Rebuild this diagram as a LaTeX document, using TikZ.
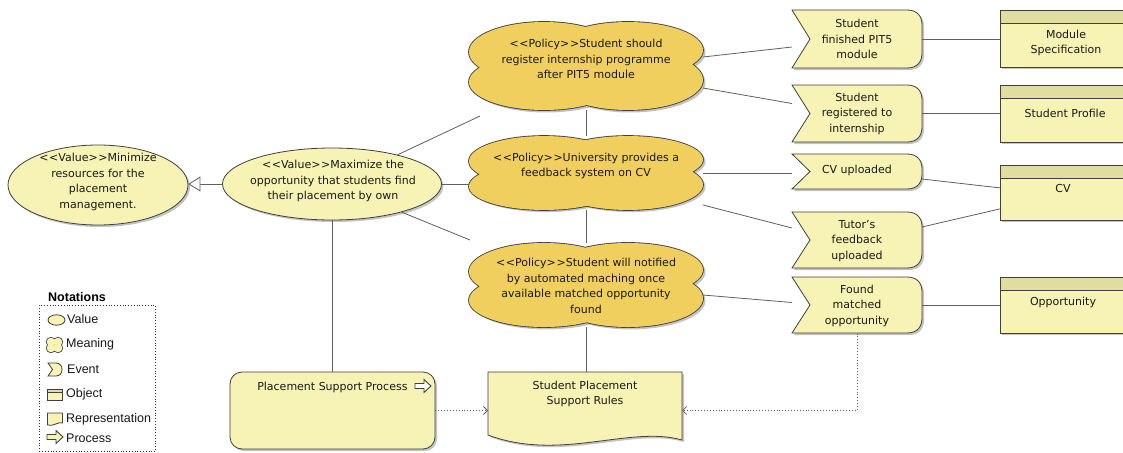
\documentclass[tikz,border=0pt]{standalone}
\usepackage{fontspec}
\setmainfont{DejaVu Sans}
\newfontfamily\legendfont{Liberation Sans}
\usetikzlibrary{shapes.geometric,arrows.meta,shadows,calc}

\definecolor{valfill}{RGB}{246,243,180}
\definecolor{polfill}{RGB}{241,207,94}
\definecolor{objhead}{RGB}{224,221,160}
\definecolor{edge}{RGB}{64,64,64}
\definecolor{linkgrey}{RGB}{96,96,96}
\definecolor{shadowgrey}{RGB}{195,195,195}

% stereotype brackets, kept apart so they are not merged into guillemets
\newcommand\stereo[1]{<\kern0.6pt<#1>\kern0.6pt>}

% policy cloud: four overlapping lobes; thick outline first, then the fill on top
\newcommand\policycloud[3]{%
  \begin{scope}[shift={(#1,#2)}, yscale=#3]
    \fill[shadowgrey, shift={(2.5,2.5)}] (-42,-14) ellipse (75 and 30) (42,-16) ellipse (75 and 28)
      (-42,16) ellipse (75 and 28) (42,14) ellipse (75 and 30);
    \draw[edge, line width=1.7pt] (-42,-14) ellipse (75 and 30) (42,-16) ellipse (75 and 28)
      (-42,16) ellipse (75 and 28) (42,14) ellipse (75 and 30);
    \fill[polfill] (-42,-14) ellipse (75 and 30) (42,-16) ellipse (75 and 28)
      (-42,16) ellipse (75 and 28) (42,14) ellipse (75 and 30);
  \end{scope}}

% event outline: notched left side, rounded right side (left, top, right, bottom)
\newcommand\evoutline[5]{%
  \path[#1] (#2,#3) -- ({#4-15},#3) .. controls ({#4-4},#3) and (#4,{#3+7}) .. (#4,{#3+15})
    -- (#4,{#5-15}) .. controls (#4,{#5-7}) and ({#4-4},#5) .. ({#4-15},#5)
    -- (#2,#5) -- ({#2+18},{(#3+#5)/2}) -- cycle;}
\newcommand\eventshape[4]{%
  \evoutline{fill=shadowgrey, shift={(2,2)}}{#1}{#2}{#3}{#4}%
  \evoutline{draw=edge, fill=valfill, line width=0.8pt}{#1}{#2}{#3}{#4}}

% hollow process arrow (x, y, fill colour)
\newcommand\procarrow[3]{%
  \draw[edge, fill=#3, line width=0.9pt, shift={(#1,#2)}]
    (0,-2.5) -- (9,-2.5) -- (9,-6.5) -- (16,0) -- (9,6.5) -- (9,2.5) -- (0,2.5) -- cycle;}

\tikzset{
  txt/.style={font=\fontsize{11}{15.5}\selectfont, align=center, text=black!90},
  shade/.style={drop shadow={shadow xshift=2pt, shadow yshift=-2pt, opacity=1, fill=shadowgrey}},
  valueshape/.style={ellipse, draw=edge, fill=valfill, line width=0.8pt, inner sep=0pt, shade},
  anchorbox/.style={inner sep=0pt, outer sep=0pt},
  objbody/.style={rectangle, draw=edge, fill=valfill, line width=0.8pt, inner sep=0pt,
    minimum width=140pt, anchor=north west, shade},
  link/.style={draw=linkgrey, line width=0.8pt},
  trace/.style={draw=linkgrey, line width=0.9pt, dotted,
    -{Straight Barb[length=4pt, width=8pt, line width=0.8pt]}},
  legtext/.style={font=\legendfont\fontsize{12.5}{14}\selectfont, anchor=west, inner sep=0pt, text=black!90},
}

\begin{document}
\begin{tikzpicture}[x=1pt, y=-1pt]
\useasboundingbox (0,0) rectangle (1123,452);
\fill[white] (0,0) rectangle (1123,452);

% ---------------- values ----------------
\node[valueshape, minimum width=180pt, minimum height=80pt] (v1) at (98,185) {};
\node[txt] (v1t) at (98,182) {\stereo{Value}Minimize\\resources for the\\placement\\management.};
\node[valueshape, minimum width=219pt, minimum height=72pt] (v2) at (332,184) {};
\node[txt] (v2t) at (333,181) {\stereo{Value}Maximize the\\opportunity that students find\\their placement by own};

% ---------------- policies ----------------
\policycloud{586}{66}{1}
\policycloud{586}{173}{0.84}
\policycloud{586}{285}{0.955}
\node[ellipse, anchorbox, minimum width=234pt, minimum height=88pt] (p1) at (586,66) {};
\node[ellipse, anchorbox, minimum width=234pt, minimum height=74pt] (p2) at (586,173) {};
\node[ellipse, anchorbox, minimum width=234pt, minimum height=84pt] (p3) at (586,285) {};
\node[txt] (p1t) at (586,59) {\stereo{Policy}Student should\\register internship programme\\after PIT5 module};
\node[txt] (p2t) at (586,166) {\stereo{Policy}University provides a\\feedback system on CV};
\node[txt] (p3t) at (586,286) {\stereo{Policy}Student will notified\\by automated maching once\\available matched opportunity\\found};

% ---------------- events ----------------
\eventshape{792}{10}{922}{68}
\eventshape{792}{85}{922}{142}
\eventshape{792}{154}{922}{189}
\eventshape{792}{212}{922}{268}
\eventshape{792}{277}{922}{333}
\node[txt, anchorbox, minimum width=130pt, minimum height=58pt] (e1) at (857,39) {Student\\finished PIT5\\module};
\node[txt, anchorbox, minimum width=130pt, minimum height=57pt] (e2) at (857,113.5) {Student\\registered to\\internship};
\node[txt, anchorbox, minimum width=130pt, minimum height=35pt] (e3) at (857,170) {CV uploaded};
\node[txt, anchorbox, minimum width=130pt, minimum height=56pt] (e4) at (857,241) {Tutor's\\feedback\\uploaded};
\node[txt, anchorbox, minimum width=130pt, minimum height=56pt] (e5) at (857,305.5) {Found\\matched\\opportunity};

% ---------------- objects ----------------
\node[objbody, minimum height=57pt] (o1) at (1000,10) {};
\node[objbody, minimum height=57pt] (o2) at (1000,85) {};
\node[objbody, minimum height=55pt] (o3) at (1000,165) {};
\node[objbody, minimum height=56pt] (o4) at (1000,277) {};
\foreach \o in {o1,o2,o3,o4}
  \draw[edge, fill=objhead, line width=0.8pt] (\o.north west) rectangle ($(\o.north east)+(0,13.5)$);
\node[txt] (o1t) at (1066,43) {Module\\Specification};
\node[txt] (o2t) at (1065,113) {Student Profile};
\node[txt] (o3t) at (1063,188) {CV};
\node[txt] (o4t) at (1063,302) {Opportunity};

% ---------------- process and representation ----------------
\node[draw=edge, fill=valfill, rounded corners=12pt, line width=0.8pt, minimum width=205pt,
  minimum height=77pt, shade] (proc) at (332.5,410.5) {};
\node[txt, anchor=east] (proct) at (411,387) {Placement Support Process};
\procarrow{415}{386}{white}

\node[anchorbox, minimum width=194pt, minimum height=77pt] (rules) at (585,410.5) {};
\fill[shadowgrey, shift={(2,2)}] (488,372) -- (682,372) -- (682,440)
  .. controls (630,425) and (560,462) .. (488,435) -- cycle;
\draw[edge, fill=valfill, line width=0.8pt] (488,372) -- (682,372) -- (682,440)
  .. controls (630,425) and (560,462) .. (488,435) -- cycle;
\node[txt] (rulest) at (585,394) {Student Placement\\Support Rules};

% ---------------- connectors ----------------
\draw[link, -{Triangle[open, length=12pt, width=15pt, fill=white, line width=0.8pt]}]
  (v2.west) -- (v2.west -| v1.east);
\draw[link] (v2.24) -- ($(p1.center)+(-106,50)$);
\draw[link] (v2.east) -- (v2.east -| p2.west);
\draw[link] (v2.-22) -- ($(p3.center)+(-116,-45)$);
\draw[link] (v2.south) -- (v2.south |- proc.north);
\draw[link] (p1.south) -- (p2.north);
\draw[link] (p2.south) -- (p3.north);
\draw[link] (p3.south) -- (p3.south |- rules.north);

\draw[link] ($(p1.center)+(117,-9)$) -- ($(e1.west)+(0,8)$);
\draw[link] ($(p1.center)+(117,22)$) -- ($(e2.west)+(0,-10)$);
\draw[link] (p2.east) -- (p2.east -| e3.west);
\draw[link] ($(p2.center)+(117,32)$) -- ($(e4.west)+(0,-13)$);
\draw[link] ($(p3.center)+(117,10)$) -- ($(e5.west)+(0,-3)$);

\draw[link] (e1.east) -- (e1.east -| o1.west);
\draw[link] (e2.east) -- (e2.east -| o2.west);
\draw[link] ($(e3.east)+(0,9)$) -- ($(o3.west)+(0,-5)$);
\draw[link] ($(e4.east)+(0,-14)$) -- ($(o3.west)+(0,16)$);
\draw[link] (e5.east) -- (e5.east -| o4.west);

\draw[trace] (proc.east) -- (proc.east -| rules.west);
\draw[trace] (e5.south) |- (rules.east);

% ---------------- legend ----------------
\node[font=\legendfont\bfseries\fontsize{12.5}{14}\selectfont, anchor=west, inner sep=0pt] (legtitle) at (48,297) {Notations};
\node[draw=black!80, dotted, line width=0.8pt, anchor=north west, minimum width=116pt,
  minimum height=146pt, inner sep=0pt] (legend) at (39,305) {};
% value
\draw[edge, fill=valfill, line width=0.8pt] (56.5,320) ellipse (8.5 and 5.2);
\node[legtext] (lvalue) at (67,319) {Value};
% meaning
\draw[edge, line width=1.6pt] (51,342) circle (4.3) (58,342) circle (4.3) (51,348) circle (4.3) (58,348) circle (4.3);
\fill[valfill] (51,342) circle (4.3) (58,342) circle (4.3) (51,348) circle (4.3) (58,348) circle (4.3);
\node[legtext] (lmeaning) at (66,344) {Meaning};
% event
\draw[edge, fill=valfill, line width=0.8pt] (48,363) -- (56,363) .. controls (60,363) and (62,366) .. (62,369.5)
  .. controls (62,373) and (60,376) .. (56,376) -- (48,376) -- (52.5,369.5) -- cycle;
\node[legtext] (levent) at (67,369) {Event};
% object
\draw[edge, fill=valfill, line width=0.8pt] (47.5,389) rectangle (62.5,400);
\draw[edge, fill=objhead, line width=0.8pt] (47.5,389) rectangle (62.5,392.5);
\node[legtext] (lobject) at (66,394) {Object};
% representation
\draw[edge, fill=valfill, line width=0.8pt] (47.5,413) -- (62.5,413) -- (62.5,423)
  .. controls (59,421) and (53,427) .. (47.5,425) -- cycle;
\node[legtext] (lrep) at (66,419) {Representation};
% process
\procarrow{47}{437}{valfill}
\node[legtext] (lproc) at (66,438) {Process};
\end{tikzpicture}
\end{document}
